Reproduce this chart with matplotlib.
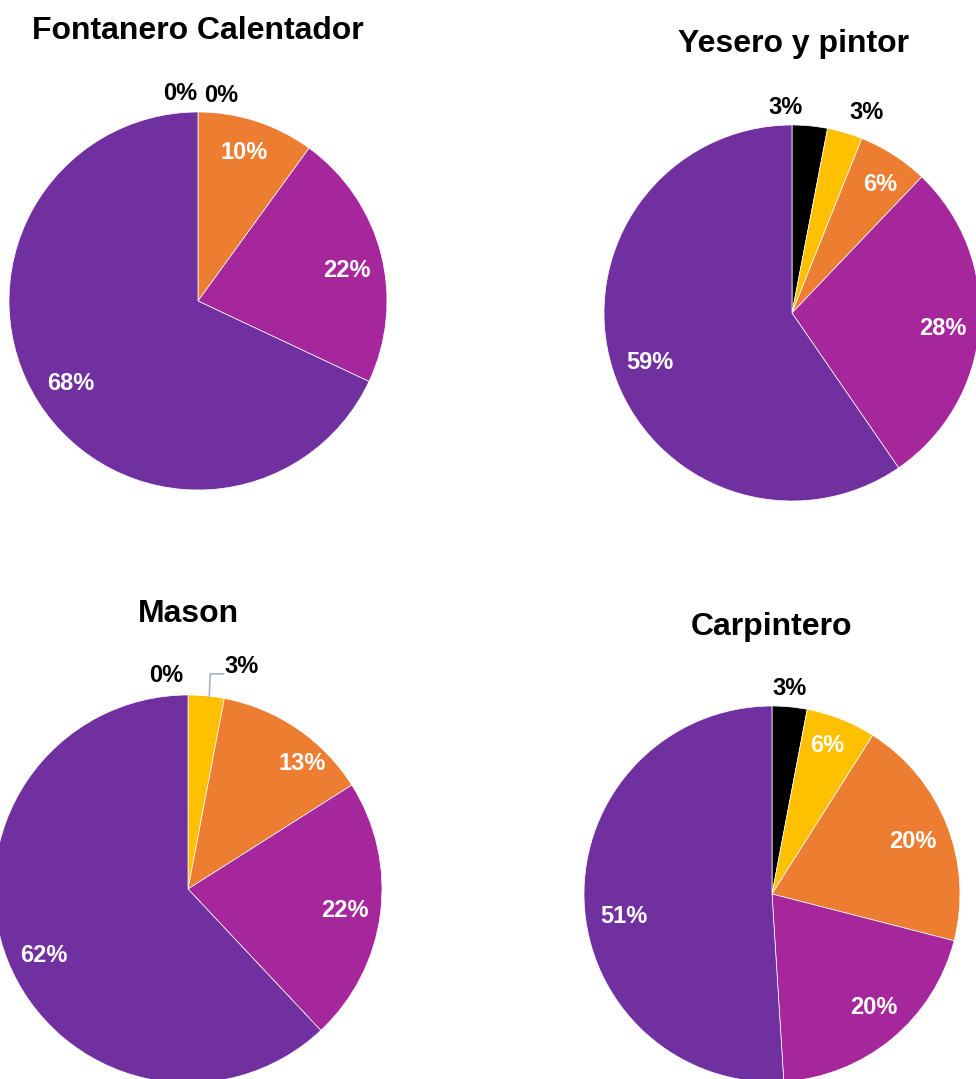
import numpy as np
import matplotlib
matplotlib.use("Agg")
import matplotlib.pyplot as plt

plt.rcParams['font.family'] = ['Liberation Sans', 'DejaVu Sans']

categories = ["Negro", "Amarillo", "Naranja", "Magenta", "Morado"]
colors = ["#000000", "#FFC000", "#ED7D31", "#A6279B", "#7030A0"]

titles = ["Fontanero Calentador", "Yesero y pintor", "Mason", "Carpintero"]
fontanero = [0, 0, 10, 22, 68]
yesero = [3, 3, 6, 28, 59]
mason = [0, 3, 13, 22, 62]
carpintero = [3, 6, 20, 20, 51]
series = [fontanero, yesero, mason, carpintero]

W, H = 976, 1079
fig = plt.figure(figsize=(W / 100, H / 100), dpi=100)
ax = fig.add_axes([0, 0, 1, 1])

LABEL_FS = 17

# layout in pixel units (top-left origin), converted for the axes
layout = [
    dict(c=(198, 301), r=189, title=(198, 31)),
    dict(c=(792, 313), r=188, title=(793, 44)),
    dict(c=(188, 889), r=194, title=(188, 614)),
    dict(c=(772, 894), r=188, title=(772, 627)),
]
# label placement style per slice: (mode, dx, dy) in px; mode 'in' white inside, 'out' black outside
label_style = [
    [("out", -18, 0), ("out", 23, 2), ("in", -1, -5), ("in", 2, 7), ("in", 0, 1)],
    [("out", -26, 0), ("out", 16, -2), ("in", 7, -2), ("in", 1, 4), ("in", 1, 5)],
    [("out", -22, 0), ("lead", 0, 0), ("in", 27, 3), ("in", 3, 2), ("in", 0, 9)],
    [("out", -2, 0), ("in", 0, -9), ("in", 1, 3), ("in", 6, -2), ("in", 2, 18)],
]

for vals, lay, styles, title in zip(series, layout, label_style, titles):
    cx, cy = lay["c"][0], H - lay["c"][1]
    R = lay["r"]
    wedges, _ = ax.pie(vals, colors=colors, startangle=90, counterclock=False,
                       center=(cx, cy), radius=R, frame=True,
                       wedgeprops=dict(edgecolor="white", linewidth=0.5))
    for v, w, (mode, dx, dy) in zip(vals, wedges, styles):
        ang = np.deg2rad((w.theta1 + w.theta2) / 2)
        if mode == "in":
            x = cx + 0.8 * R * np.cos(ang) + dx
            y = cy + 0.8 * R * np.sin(ang) - dy
            ax.text(x, y, f"{v}%", color="white", fontsize=LABEL_FS, fontweight="bold",
                    ha="center", va="center")
        elif mode == "out":
            x = cx + 1.1 * R * np.cos(ang) + dx
            y = cy + 1.1 * R * np.sin(ang) - dy
            ax.text(x, y, f"{v}%", color="black", fontsize=LABEL_FS, fontweight="bold",
                    ha="center", va="center")
        else:
            ex = cx + R * np.cos(ang)
            ey = cy + R * np.sin(ang)
            ax.plot([ex + 3, ex + 4, ex + 17], [ey, ey + 22, ey + 22],
                    color="#A6B4C8", lw=1.2, solid_joinstyle="miter")
            ax.text(ex + 18, ey + 29, f"{v}%", color="black", fontsize=LABEL_FS,
                    fontweight="bold", ha="left", va="center")
    ax.text(lay["title"][0], H - lay["title"][1], title, fontsize=23,
            fontweight="bold", ha="center", va="center", color="black")

ax.set_xlim(0, W)
ax.set_ylim(0, H)
ax.set_aspect("auto")
ax.axis("off")

fig.savefig("out.png", dpi=100, facecolor="white")
